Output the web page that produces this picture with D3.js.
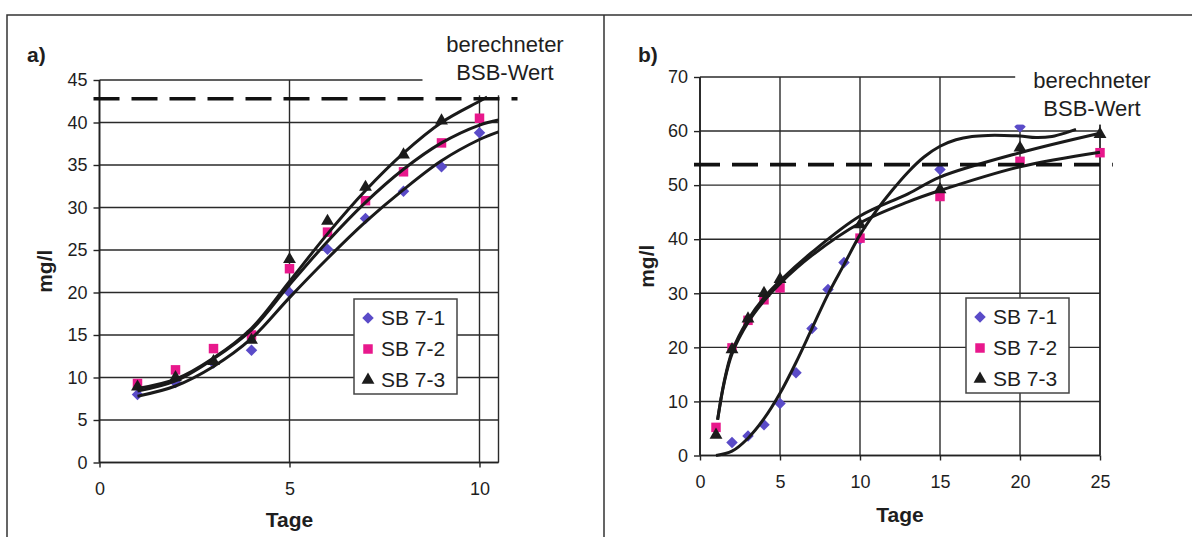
<!DOCTYPE html>
<html>
<head>
<meta charset="utf-8">
<script src="https://cdn.jsdelivr.net/npm/d3@7"></script>
<style>
  body { margin: 0; background: #fff; }
  svg text { font-family: "Liberation Sans", Arial, sans-serif; fill: #1e1e1e; }
</style>
</head>
<body>
<svg id="chart" width="1192" height="537"></svg>
<script>
// ---- panel a data (days 1..10) ----
let daysA = [1, 2, 3, 4, 5, 6, 7, 8, 9, 10];
let sb71A = [8.0, 9.4, 11.7, 13.2, 20.0, 25.1, 28.7, 31.9, 34.8, 38.8];
let sb72A = [9.3, 10.9, 13.4, 15.0, 22.8, 27.1, 30.8, 34.2, 37.6, 40.5];
let sb73A = [8.9, 10.0, 11.9, 14.4, 23.9, 28.4, 32.4, 36.2, 40.2, null];
// trend lines
let fitXA = [1, 2, 3, 4, 5, 6, 7, 8, 9, 10, 10.5];
let fit71A = [7.8, 9.0, 11.3, 14.6, 19.4, 24.0, 28.3, 32.1, 35.5, 38.0, 38.9];
let fit72A = [8.4, 9.6, 12.2, 15.6, 20.9, 26.0, 30.6, 34.5, 37.6, 39.7, 40.3];
let fitX73A = [1, 2, 3, 4, 5, 6, 7, 8, 9, 10, 10.2];
let fit73A = [8.7, 9.8, 12.3, 15.8, 21.3, 26.9, 32.0, 36.4, 40.0, 42.5, 43.0];
let bsbA = 42.8;
let xTicksA = [0, 5, 10];
let yTicksA = [0, 5, 10, 15, 20, 25, 30, 35, 40, 45];

// ---- panel b data ----
let daysB = [1, 2, 3, 4, 5, 6, 7, 8, 9, 10, 15, 20, 25];
let sb71B = [null, 2.4, 3.6, 5.7, 9.6, 15.3, 23.5, 30.7, 35.7, 40.0, 52.9, 60.8, null];
let sb72B = [5.2, 19.9, 25.0, 28.8, 31.0, null, null, null, null, 40.2, 47.9, 54.4, 56.0];
let sb73B = [3.8, 19.6, 25.3, 30.0, 32.6, null, null, null, null, 42.7, 49.2, 56.9, 59.4];
let fitX71B = [1, 2, 3, 4, 5, 6, 7, 8, 9, 10, 11, 12, 13, 14, 15, 16, 17, 18, 19, 20, 21, 22, 23, 23.5];
let fit71B = [0, 0.8, 3.2, 6.8, 11.5, 17.2, 23.5, 29.8, 35.3, 40.8, 45.2, 49.0, 52.4, 55.2, 57.2, 58.4, 59.0, 59.2, 59.2, 59.1, 58.8, 59.0, 59.8, 60.3];
let fitXB = [1.1, 1.5, 2, 3, 4, 5, 7, 10, 13, 15, 20, 25];
let fit72B = [6.6, 13.3, 18.8, 24.6, 28.6, 31.8, 37.0, 43.0, 46.9, 49.0, 53.4, 56.1];
let fit73B = [6.6, 13.5, 19.2, 25.1, 29.2, 32.3, 37.6, 44.3, 48.4, 51.5, 56.0, 59.6];
let bsbB = 53.8;
let xTicksB = [0, 5, 10, 15, 20, 25];
let yTicksB = [0, 10, 20, 30, 40, 50, 60, 70];

let seriesNames = ["SB 7-1", "SB 7-2", "SB 7-3"];
let colors = ["#5a4bc8", "#e8188c", "#1c1c1c"];
let shapes = [d3.symbolSquare, d3.symbolSquare, d3.symbolTriangle];
let sizes = [66, 90, 72];
let rot = [45, 0, 0];

const svg = d3.select("#chart");

// outer frames
svg.append("path")
   .attr("d", "M7,537 L7,15 L1192,15 M604,15 L604,537")
   .attr("fill", "none").attr("stroke", "#333").attr("stroke-width", 1.5);

function drawPanel(p) {
    let g = svg.append("g");
    let x = p.x, y = p.y;
    let [x0, x1] = x.domain();
    let yTop = d3.max(p.yTicks);

    // grid
    g.selectAll(".hg").data(p.yTicks).enter().append("line")
     .attr("x1", x(0)).attr("x2", x(x1))
     .attr("y1", d => y(d)).attr("y2", d => y(d))
     .attr("stroke", "#2a2a2a").attr("stroke-width", 1.4);
    g.selectAll(".vg").data(p.xTicks.concat([x1])).enter().append("line")
     .attr("x1", d => x(d)).attr("x2", d => x(d))
     .attr("y1", y(0)).attr("y2", y(yTop))
     .attr("stroke", "#2a2a2a").attr("stroke-width", 1.4);

    // axes
    let yAxis = d3.axisLeft(y).tickValues(p.yTicks).tickSize(6).tickPadding(6);
    let xAxis = d3.axisBottom(x).tickValues(p.xTicks).tickSize(5).tickPadding(15);
    let ya = g.append("g").attr("transform", "translate(" + x(0) + ",0)").call(yAxis);
    let xa = g.append("g").attr("transform", "translate(0," + y(0) + ")").call(xAxis);
    [ya, xa].forEach(a => {
        a.select(".domain").attr("stroke", "#222").attr("stroke-width", 1.7);
        a.selectAll(".tick line").attr("stroke", "#222").attr("stroke-width", 1.4);
        a.selectAll("text").style("font-size", "18px").attr("fill", "#1e1e1e");
    });
    xa.select(".domain").attr("d", "M" + x(0) + ",0H" + x(x1));
    ya.select(".domain").attr("d", "M0," + y(0) + "V" + y(yTop));

    // markers
    p.series.forEach((s, i) => {
        let pts = p.days.map((d, j) => ({ d: d, v: s[j] })).filter(o => o.v != null);
        g.selectAll(".m" + i).data(pts).enter().append("path")
         .attr("d", d3.symbol(shapes[i], sizes[i]))
         .attr("transform", o => "translate(" + x(o.d) + "," + y(o.v) + ") rotate(" + rot[i] + ")")
         .attr("fill", colors[i]);
    });

    // trend lines
    let line = d3.line().x(o => x(o[0])).y(o => y(o[1])).curve(d3.curveCatmullRom.alpha(0.5));
    p.fits.forEach(f => {
        g.append("path")
         .attr("d", line(f[0].map((v, j) => [v, f[1][j]])))
         .attr("fill", "none").attr("stroke", "#1a1a1a").attr("stroke-width", 3);
    });

    // label box over the top right corner
    g.append("rect")
     .attr("x", x(p.boxFrom)).attr("y", 18)
     .attr("width", p.boxW).attr("height", y(p.boxBottom) - 18)
     .attr("fill", "#fff");
    g.append("text").attr("x", p.labX).attr("y", p.labY)
     .attr("text-anchor", "middle").style("font-size", "22px").text("berechneter");
    g.append("text").attr("x", p.labX).attr("y", p.labY + 28)
     .attr("text-anchor", "middle").style("font-size", "22px").text("BSB-Wert");

    // calculated BOD line
    g.append("line")
     .attr("x1", x(0) - 6).attr("x2", x(p.dashTo))
     .attr("y1", y(p.bsb)).attr("y2", y(p.bsb))
     .attr("stroke", "#111").attr("stroke-width", 3.6).attr("stroke-dasharray", "26,12");

    // titles
    g.append("text").attr("x", p.tagX).attr("y", p.tagY)
     .style("font-size", "21px").style("font-weight", "bold").text(p.tag);
    g.append("text").attr("x", (x(0) + x(p.xTicks[p.xTicks.length - 1])) / 2).attr("y", p.xLabY)
     .attr("text-anchor", "middle").style("font-size", "21px").style("font-weight", "bold").text("Tage");
    g.append("text")
     .attr("transform", "translate(" + p.yLabX + "," + (y(0) + y(yTop)) / 2 + ") rotate(-90)")
     .attr("text-anchor", "middle").style("font-size", "21px").style("font-weight", "bold").text("mg/l");

    // legend
    let lg = g.append("g").attr("transform", "translate(" + p.legX + "," + p.legY + ")");
    lg.append("rect").attr("width", 103).attr("height", 95)
      .attr("fill", "#fff").attr("stroke", "#444").attr("stroke-width", 1.5);
    seriesNames.forEach((n, i) => {
        lg.append("path")
          .attr("d", d3.symbol(shapes[i], sizes[i]))
          .attr("transform", "translate(14," + (19 + i * 31) + ") rotate(" + rot[i] + ")")
          .attr("fill", colors[i]);
        lg.append("text").attr("x", 27).attr("y", 26 + i * 31)
          .style("font-size", "21px").text(n);
    });
}

drawPanel({
    x: d3.scaleLinear().domain([0, 10.5]).range([99.5, 498.5]),
    y: d3.scaleLinear().domain([0, 45]).range([462.5, 80]),
    xTicks: xTicksA, yTicks: yTicksA,
    days: daysA, series: [sb71A, sb72A, sb73A],
    fits: [[fitXA, fit71A], [fitXA, fit72A], [fitX73A, fit73A]],
    bsb: bsbA, dashTo: 11.0, boxFrom: 8.5, boxW: 175, boxBottom: 43.2,
    labX: 505, labY: 52, tag: "a)", tagX: 27, tagY: 62,
    xLabY: 527, yLabX: 52, legX: 354, legY: 299
});

drawPanel({
    x: d3.scaleLinear().domain([0, 25]).range([700, 1100]),
    y: d3.scaleLinear().domain([0, 70]).range([455.5, 77]),
    xTicks: xTicksB, yTicks: yTicksB,
    days: daysB, series: [sb71B, sb72B, sb73B],
    fits: [[fitX71B, fit71B], [fitXB, fit72B], [fitXB, fit73B]],
    bsb: bsbB, dashTo: 25.8, boxFrom: 19.7, boxW: 180, boxBottom: 61.2,
    labX: 1092, labY: 88, tag: "b)", tagX: 638, tagY: 62,
    xLabY: 522, yLabX: 654, legX: 966, legY: 298
});
</script>
</body>
</html>
